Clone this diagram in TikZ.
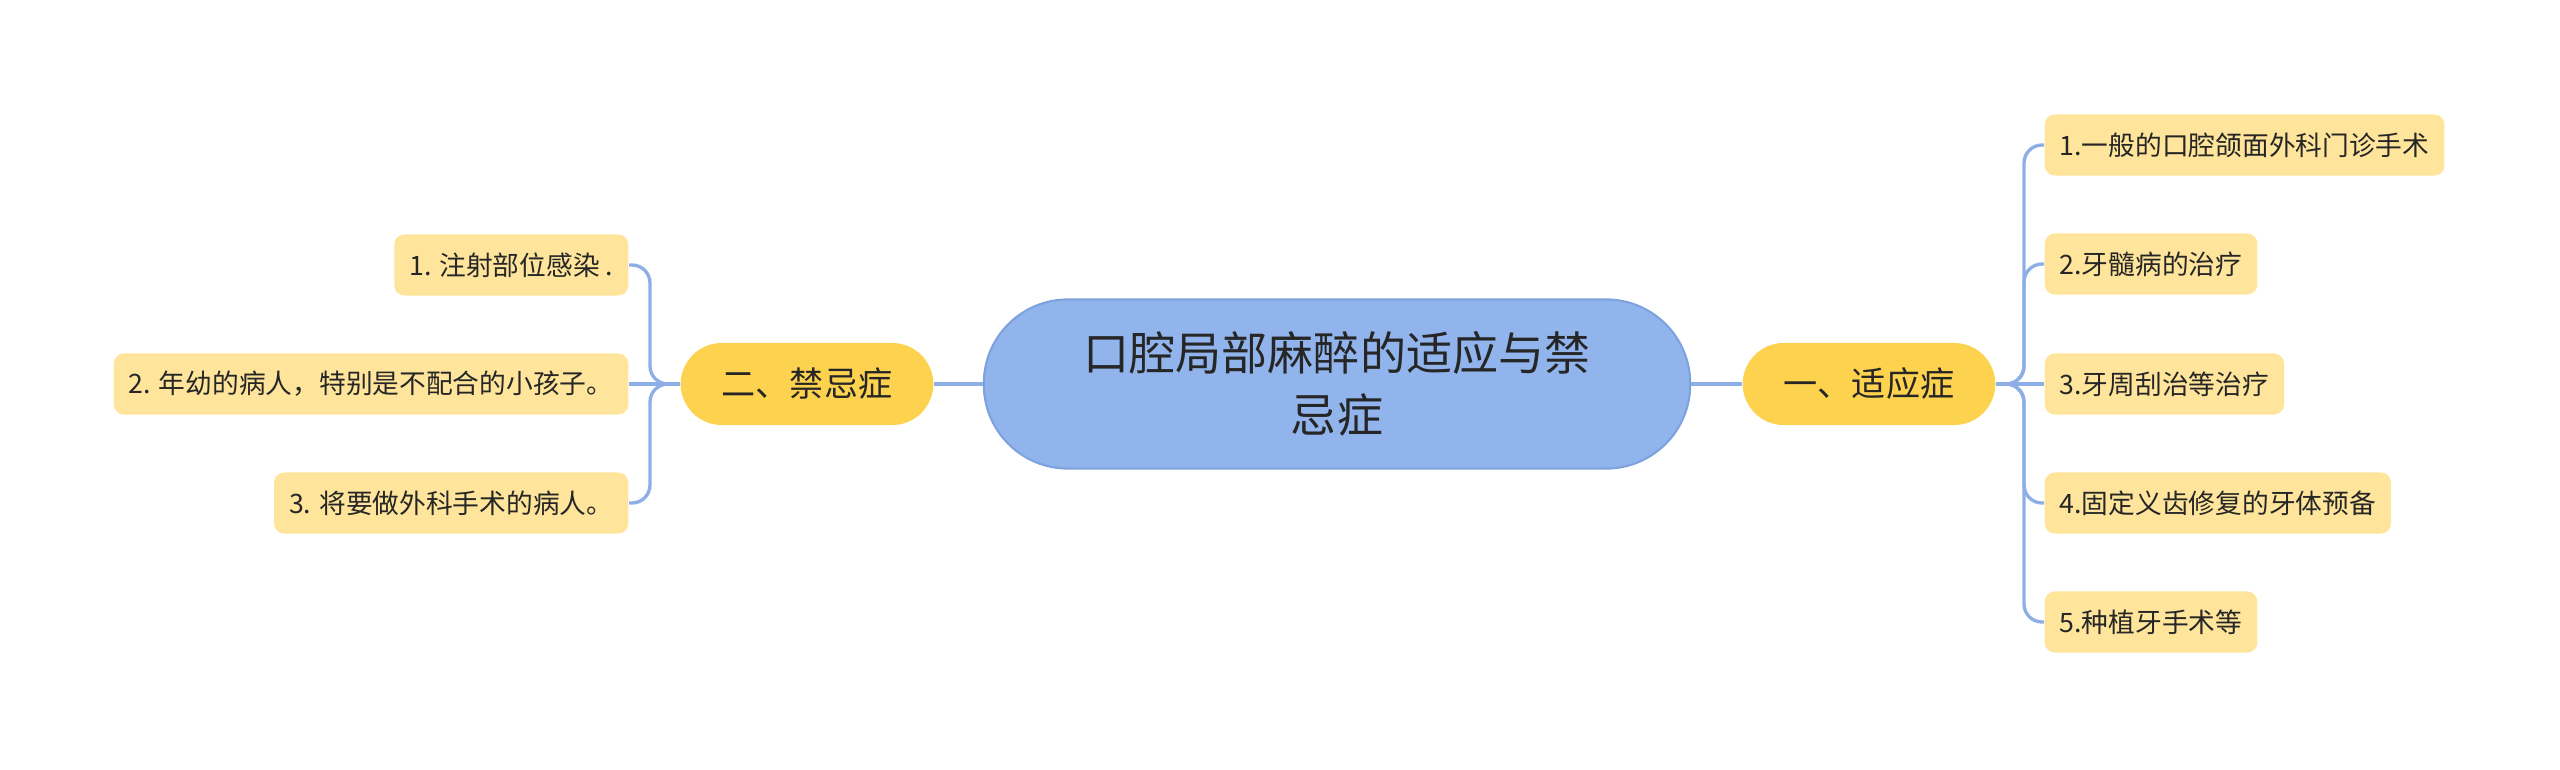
\documentclass[tikz,border=0pt]{standalone}
\usepackage{fontspec}
\newfontfamily\cjk{Noto Sans CJK SC}
\usepackage{tikz}
\usetikzlibrary{positioning}
\definecolor{rootblue}{HTML}{90B4EB}
\definecolor{rootedge}{HTML}{7EA2DC}
\definecolor{linkblue}{HTML}{8DAFE6}
\definecolor{topicyel}{HTML}{FDD24F}
\definecolor{leafyel}{HTML}{FEE59B}
\definecolor{inkgray}{HTML}{262626}
\tikzset{
  rootnode/.style={fill=rootblue, draw=rootedge, line width=0.6pt, rounded corners=0.84cm,
    minimum width=7.06cm, minimum height=1.69cm, align=center, text=inkgray,
    font=\cjk\fontsize{13.1}{17.6}\selectfont},
  topicnode/.style={fill=topicyel, rounded corners=0.41cm, minimum height=0.82cm,
    inner xsep=0.41cm, text=inkgray, font=\cjk\fontsize{9.7}{11}\selectfont},
  leafnode/.style={fill=leafyel, rounded corners=0.1cm, minimum height=0.61cm,
    inner xsep=0.15cm, text=inkgray, font=\cjk\fontsize{7.6}{9}\selectfont},
  link/.style={draw=linkblue, line width=0.95pt, rounded corners=0.18cm}
}
\begin{document}
\begin{tikzpicture}[x=0.01cm,y=-0.01cm]
            \useasboundingbox (0,0) rectangle (2560,769);
            % centre and the two topics
            \node[rootnode] (root) at (1337,384) {口腔局部麻醉的适应与禁\\忌症};
            \node[topicnode] (shiying) at (1869,384) {一、适应症};
            \node[topicnode] (jinji) at (807,384) {二、禁忌症};
            \draw[link] (root.east) -- (shiying.west);
            \draw[link] (root.west) -- (jinji.east);
            % right branch
            \node[leafnode, anchor=west] (s1) at (2044,145) {1.一般的口腔颌面外科门诊手术};
            \node[leafnode, anchor=west] (s2) at (2044,264) {2.牙髓病的治疗};
            \node[leafnode, anchor=west] (s3) at (2044,384) {3.牙周刮治等治疗};
            \node[leafnode, anchor=west] (s4) at (2044,503) {4.固定义齿修复的牙体预备};
            \node[leafnode, anchor=west] (s5) at (2044,622) {5.种植牙手术等};
            \coordinate (rtrunk) at (2024,384);
            \draw[link] (shiying.east) -- (rtrunk) |- (s1.west);
            \draw[link] (shiying.east) -- (rtrunk) |- (s2.west);
            \draw[link] (shiying.east) -- (s3.west);
            \draw[link] (shiying.east) -- (rtrunk) |- (s4.west);
            \draw[link] (shiying.east) -- (rtrunk) |- (s5.west);
            % left branch
            \node[leafnode, anchor=east] (j1) at (629,265) {1. 注射部位感染 .};
            \node[leafnode, anchor=east] (j2) at (629,384) {2. 年幼的病人，特别是不配合的小孩子。};
            \node[leafnode, anchor=east] (j3) at (629,503) {3. 将要做外科手术的病人。};
            \coordinate (ltrunk) at (650,384);
            \draw[link] (jinji.west) -- (ltrunk) |- (j1.east);
            \draw[link] (jinji.west) -- (j2.east);
            \draw[link] (jinji.west) -- (ltrunk) |- (j3.east);
\end{tikzpicture}
\end{document}
